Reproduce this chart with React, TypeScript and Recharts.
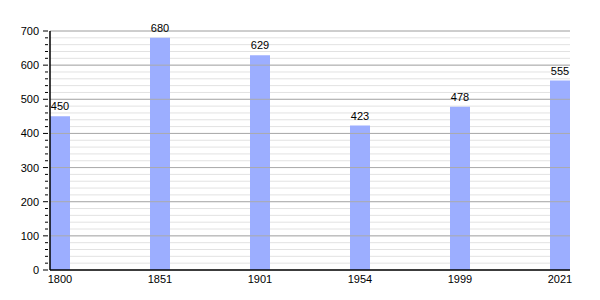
import { BarChart, Bar, XAxis, YAxis, CartesianGrid, ReferenceLine, LabelList } from "recharts";

const years = ["1800", "1851", "1901", "1954", "1999", "2021"];
const population = [450, 680, 629, 423, 478, 555];
const yTicks = Array.from({ length: 36 }, (_, i) => i * 20);
const majorTicks = [100, 200, 300, 400, 500, 600, 700];

const data = years.map((year, i) => ({ idx: i, year, value: population[i] }));

// y axis tick: long mark + label every 100, short mark every 20
const YTick = (props: any) => {
  const { x, y, payload } = props;
  const major = payload.value % 100 === 0;
  return (
    <g>
      <line x1={x - (major ? 5 : 3)} x2={x} y1={y} y2={y} stroke="#000" />
      {major && (
        <text x={x - 9} y={y} dy={4} textAnchor="end" fontSize={11} fill="#000">
          {payload.value}
        </text>
      )}
    </g>
  );
};

export default function App() {
  return (
    <BarChart
      width={600}
      height={300}
      data={data}
      margin={{ top: 23, right: 38, bottom: 8, left: 0 }}
      style={{ fontFamily: "'Liberation Sans', Arial, sans-serif" }}
    >
      <CartesianGrid vertical={false} stroke="#e2e2e2" />
      {majorTicks.map((v) => (
        <ReferenceLine key={v} y={v} stroke="#aaaaaa" />
      ))}
      <XAxis
        dataKey="idx"
        type="number"
        domain={[-0.1, 5.1]}
        ticks={[0, 1, 2, 3, 4, 5]}
        tickFormatter={(i: number) => years[i]}
        tickLine={false}
        tickSize={3}
        axisLine={{ stroke: "#000", strokeWidth: 1.5 }}
        tick={{ fontSize: 11, fill: "#000" }}
        height={30}
        interval={0}
      />
      <YAxis
        domain={[0, 700]}
        ticks={yTicks}
        interval={0}
        width={42}
        tickLine={false}
        tickSize={0}
        axisLine={{ stroke: "#000", strokeWidth: 1.5 }}
        tick={<YTick />}
      />
      <Bar dataKey="value" fill="#9caeff" barSize={20} isAnimationActive={false}>
        <LabelList dataKey="value" position="top" offset={6} fontSize={11} fill="#000" />
      </Bar>
    </BarChart>
  );
}
